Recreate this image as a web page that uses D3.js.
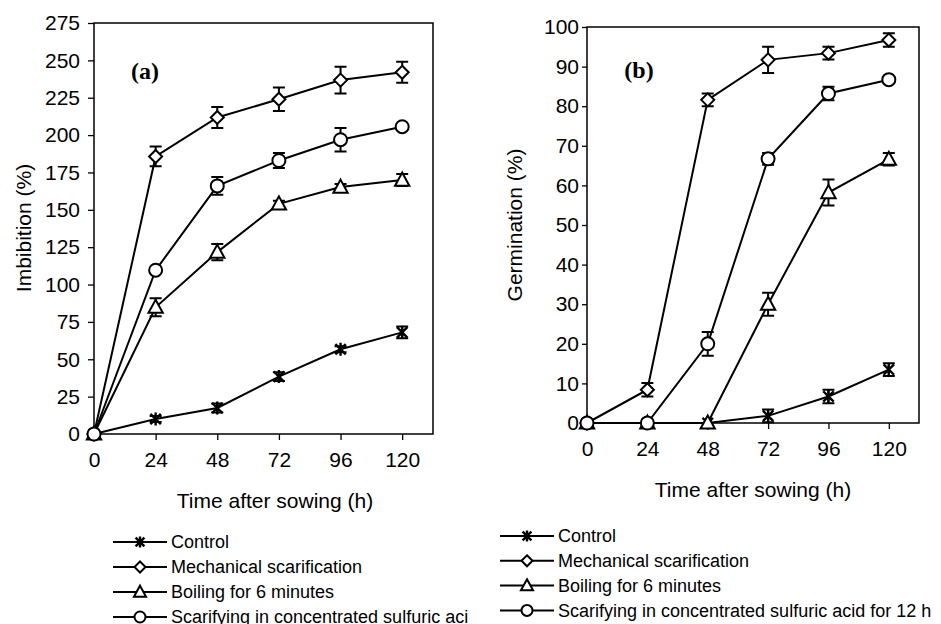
<!DOCTYPE html>
<html>
<head>
<meta charset="utf-8">
<script src="https://cdn.jsdelivr.net/npm/d3@7/dist/d3.min.js"></script>
<style>
  body { margin: 0; background: #fff; }
  svg { display: block; font-family: Arial, "Liberation Sans", sans-serif; }
</style>
</head>
<body>
<svg id="chart" width="941" height="624"></svg>
<script>
"use strict";

var hours = [0, 24, 48, 72, 96, 120];
var hourTicks = [0, 24, 48, 72, 96, 120];
var seriesNames = ["Control", "Mechanical scarification", "Boiling for 6 minutes",
  "Scarifying in concentrated sulfuric acid for 12 h"];
var seriesMarkers = ["star", "diamond", "triangle", "circle"];

// (a) imbibition
var imbTicks = [0, 25, 50, 75, 100, 125, 150, 175, 200, 225, 250, 275];
var imbControl = [0, 10, 17.4, 38.4, 56.7, 68];
var imbMechanical = [0, 185.7, 211.8, 224, 236.8, 242];
var imbBoiling = [0, 84.8, 121.7, 154, 165.2, 169.9];
var imbSulfuric = [0, 109.6, 166, 183, 196.9, 205.6];
var imbControlErr = [0, 2, 3, 3, 2, 4];
var imbMechanicalErr = [0, 6.6, 7, 7.8, 9, 7];
var imbBoilingErr = [0, 6, 5.4, 2, 2, 4];
var imbSulfuricErr = [0, 1, 6, 5, 7.8, 1];

// (b) germination
var gerTicks = [0, 10, 20, 30, 40, 50, 60, 70, 80, 90, 100];
var gerControl = [0, 0, 0, 1.8, 6.7, 13.5];
var gerMechanical = [0, 8.4, 81.6, 91.7, 93.4, 96.7];
var gerBoiling = [0, 0, 0, 30, 58.2, 66.6];
var gerSulfuric = [0, 0, 20, 66.7, 83.2, 86.7];
var gerControlErr = [0, 0, 0, 1.6, 1.7, 1.6];
var gerMechanicalErr = [0, 1.7, 1.6, 3.3, 1.6, 1.7];
var gerBoilingErr = [0, 0, 0, 2.9, 3.3, 1.6];
var gerSulfuricErr = [0, 0, 3, 1.5, 1.7, 0];

var svg = d3.select("#chart");

function markerPath(type, s) {
  if (type === "diamond") {
    return "M0," + (-s) + "L" + s + ",0L0," + s + "L" + (-s) + ",0Z";
  }
  if (type === "triangle") {
    var h = s * 1.15;
    return "M0," + (-h) + "L" + (s * 1.1) + "," + (h * 0.75) + "L" + (-s * 1.1) + "," + (h * 0.75) + "Z";
  }
  if (type === "star") {
    var d = s * 0.8;
    return "M" + (-d) + "," + (-d) + "L" + d + "," + d + "M" + (-d) + "," + d + "L" + d + "," + (-d) +
      "M0," + (-s) + "L0," + s;
  }
  return null;
}

function drawMarker(g, type, x, y, s) {
  if (type === "circle") {
    g.append("circle").attr("cx", x).attr("cy", y).attr("r", s)
      .attr("fill", "#fff").attr("stroke", "#000").attr("stroke-width", 2);
  } else {
    g.append("path").attr("d", markerPath(type, s))
      .attr("transform", "translate(" + x + "," + y + ")")
      .attr("fill", type === "star" ? "none" : "#fff")
      .attr("stroke", "#000").attr("stroke-width", type === "star" ? 2.4 : 2);
  }
}

function drawPanel(cfg) {
  var x = d3.scaleLinear().domain([0, 132]).range([cfg.left, cfg.right]);
  var y = d3.scaleLinear().domain([0, cfg.yMax]).range([cfg.bottom, cfg.top]);
  var g = svg.append("g");

  // plot frame
  g.append("rect")
    .attr("x", cfg.left).attr("y", cfg.top)
    .attr("width", cfg.right - cfg.left).attr("height", cfg.bottom - cfg.top)
    .attr("fill", "none").attr("stroke", "#000").attr("stroke-width", 1.5);

  var yAxis = g.append("g")
    .attr("transform", "translate(" + cfg.left + ",0)")
    .call(d3.axisLeft(y).tickValues(cfg.yTicks).tickSize(cfg.tickSize).tickPadding(cfg.yPad));
  var xAxis = g.append("g")
    .attr("transform", "translate(0," + cfg.bottom + ")")
    .call(d3.axisBottom(x).tickValues(hourTicks).tickSize(6).tickPadding(cfg.xPad));
  [yAxis, xAxis].forEach(function (a) {
    a.select(".domain").remove();
    a.selectAll("line").attr("stroke", "#000").attr("stroke-width", 1.3);
    a.selectAll("text").attr("font-size", 21).attr("fill", "#000")
      .attr("font-family", "Arial, 'Liberation Sans', sans-serif");
  });

  g.append("text")
    .attr("x", cfg.xTitleX).attr("y", cfg.xTitleY)
    .attr("text-anchor", "middle").attr("font-size", 21)
    .text("Time after sowing (h)");
  g.append("text")
    .attr("transform", "translate(" + cfg.yTitleX + "," + cfg.yTitleY + ") rotate(-90)")
    .attr("text-anchor", "middle").attr("font-size", 21)
    .text(cfg.yTitle);
  g.append("text")
    .attr("x", cfg.tagX).attr("y", cfg.tagY)
    .attr("text-anchor", "middle")
    .attr("font-family", "'Times New Roman', 'Liberation Serif', serif")
    .attr("font-weight", "bold").attr("font-size", 24)
    .text(cfg.tag);

  var line = d3.line()
    .x(function (d, i) { return x(hours[i]); })
    .y(function (d) { return y(d); });

  cfg.series.forEach(function (vals, si) {
    var sg = g.append("g");
    var errs = cfg.errors[si];
    // error bars
    vals.forEach(function (v, i) {
      if (!errs[i]) return;
      var cx = x(hours[i]), y0 = y(v - errs[i]), y1 = y(v + errs[i]);
      sg.append("path")
        .attr("d", "M" + cx + "," + y0 + "V" + y1 +
          "M" + (cx - 6) + "," + y0 + "H" + (cx + 6) +
          "M" + (cx - 6) + "," + y1 + "H" + (cx + 6))
        .attr("fill", "none").attr("stroke", "#000").attr("stroke-width", 2);
    });
    sg.append("path").datum(vals)
      .attr("d", line)
      .attr("fill", "none").attr("stroke", "#000").attr("stroke-width", 2);
    vals.forEach(function (v, i) {
      drawMarker(sg, seriesMarkers[si], x(hours[i]), y(v), seriesMarkers[si] === "circle" ? 6.5 : 6.5);
    });
  });

  // legend
  var lg = g.append("g");
  if (cfg.legendClip) {
    svg.append("clipPath").attr("id", cfg.legendClip)
      .append("rect").attr("x", 0).attr("y", 500).attr("width", cfg.legendClipW).attr("height", 124);
    lg.attr("clip-path", "url(#" + cfg.legendClip + ")");
  }
  seriesNames.forEach(function (name, si) {
    var ly = cfg.legendY + si * cfg.legendStep;
    lg.append("line")
      .attr("x1", cfg.legendX).attr("x2", cfg.legendX + 54)
      .attr("y1", ly).attr("y2", ly)
      .attr("stroke", "#000").attr("stroke-width", 2);
    drawMarker(lg, seriesMarkers[si], cfg.legendX + 27, ly, 5.5);
    lg.append("text")
      .attr("x", cfg.legendX + 58).attr("y", ly)
      .attr("dy", "0.35em").attr("font-size", 18)
      .text(name);
  });
}

drawPanel({
  left: 94, right: 433, top: 23, bottom: 434, yMax: 275,
  yTicks: imbTicks, tickSize: 6, yPad: 8, xPad: 12,
  xTitleX: 275, xTitleY: 508, yTitleX: 31, yTitleY: 228,
  yTitle: "Imbibition (%)", tag: "(a)", tagX: 145, tagY: 79,
  series: [imbControl, imbMechanical, imbBoiling, imbSulfuric],
  errors: [imbControlErr, imbMechanicalErr, imbBoilingErr, imbSulfuricErr],
  legendX: 113, legendY: 542, legendStep: 25,
  legendClip: "clipA", legendClipW: 468
});

drawPanel({
  left: 587, right: 919, top: 27, bottom: 423, yMax: 100,
  yTicks: gerTicks, tickSize: 5, yPad: 3, xPad: 12,
  xTitleX: 753, xTitleY: 497, yTitleX: 522, yTitleY: 225,
  yTitle: "Germination (%)", tag: "(b)", tagX: 639, tagY: 78,
  series: [gerControl, gerMechanical, gerBoiling, gerSulfuric],
  errors: [gerControlErr, gerMechanicalErr, gerBoilingErr, gerSulfuricErr],
  legendX: 500, legendY: 536, legendStep: 24.8
});
</script>
</body>
</html>
